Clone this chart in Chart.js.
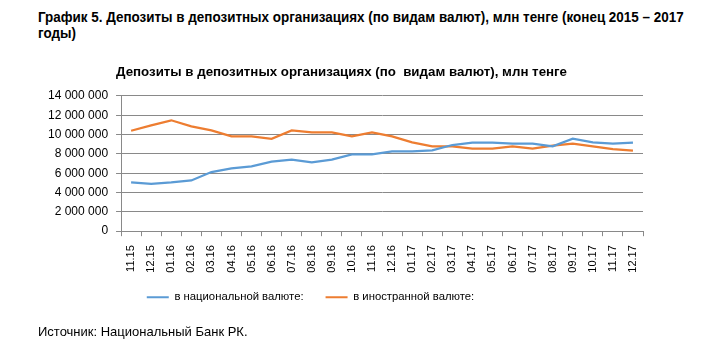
<!DOCTYPE html>
<html>
<head>
<meta charset="utf-8">
<script src="https://cdn.jsdelivr.net/npm/chart.js@4.4.0/dist/chart.umd.min.js"></script>
<style>
    body { margin: 0; background: #fff; }
    #wrap { position: relative; width: 725px; height: 351px; overflow: hidden; }
    #page-title {
        position: absolute; left: 38px; top: 9px; width: 715px;
        font: bold 14px "Liberation Sans", Arial, sans-serif;
        line-height: 16px; color: #000;
        transform: scaleX(0.96); transform-origin: left top;
    }
    #source {
        position: absolute; left: 38px; top: 324px;
        font: 13px "Liberation Sans", Arial, sans-serif; color: #000;
    }
    canvas { position: absolute; left: 0; top: 0; }
</style>
</head>
<body>
<div id="wrap">
    <div id="page-title">График 5. Депозиты в депозитных организациях (по видам валют), млн тенге (конец 2015 – 2017 годы)</div>
    <canvas id="chart" width="725" height="351"></canvas>
    <div id="source">Источник: Национальный Банк РК.</div>
</div>
<script>
// Months (MM.YY)
const months = ['11.15', '12.15', '01.16', '02.16', '03.16', '04.16', '05.16', '06.16', '07.16',
    '08.16', '09.16', '10.16', '11.16', '12.16', '01.17', '02.17', '03.17', '04.17', '05.17',
    '06.17', '07.17', '08.17', '09.17', '10.17', '11.17', '12.17'];

// Deposits, mln tenge
const nationalCurrency = [5050000, 4910000, 5050000, 5250000, 6120000, 6500000, 6700000, 7190000,
    7400000, 7120000, 7400000, 7950000, 7950000, 8260000, 8260000, 8360000, 8920000, 9160000,
    9160000, 9060000, 9060000, 8780000, 9570000, 9190000, 9060000, 9160000];
const foreignCurrency = [10400000, 10960000, 11480000, 10850000, 10440000, 9820000, 9820000, 9570000,
    10440000, 10230000, 10230000, 9820000, 10230000, 9820000, 9190000, 8780000, 8780000, 8540000,
    8540000, 8780000, 8540000, 8850000, 9060000, 8780000, 8500000, 8330000];

const seriesNames = ['в национальной валюте:', 'в иностранной валюте:'];
const chartTitle = 'Депозиты в депозитных организациях (по  видам валют), млн тенге';

const gridColor = '#898989';
const baseFont = '"Liberation Sans", Arial, sans-serif';

function formatTick(value) {
    return String(value).replace(/\B(?=(\d{3})+(?!\d))/g, ' ');
}

// Legend in the original sits a bit left of centre and closer to the labels
const legendShift = {
    id: 'legendShift',
    afterLayout(chart) {
        const lg = chart.legend;
        lg.left -= 31; lg.right -= 31;
        lg.top -= 12; lg.bottom -= 12;
    }
};

const ctx = document.getElementById('chart').getContext('2d');
new Chart(ctx, {
    type: 'line',
    data: {
        labels: months,
        datasets: [{
            label: seriesNames[0],
            data: nationalCurrency,
            borderColor: '#5B9BD5',
            backgroundColor: '#5B9BD5',
            borderWidth: 2.25,
            pointRadius: 0,
            tension: 0
        }, {
            label: seriesNames[1],
            data: foreignCurrency,
            borderColor: '#ED7D31',
            backgroundColor: '#ED7D31',
            borderWidth: 2.25,
            pointRadius: 0,
            tension: 0
        }]
    },
    options: {
        responsive: false,
        animation: false,
        layout: {
            padding: { left: 40, right: 82, top: 64, bottom: 26 }
        },
        plugins: {
            title: {
                display: true,
                text: chartTitle,
                color: '#000',
                font: { family: baseFont, size: 13.3, weight: 'bold' },
                padding: { top: 0, bottom: 16 }
            },
            legend: {
                position: 'bottom',
                labels: {
                    color: '#000',
                    font: { family: baseFont, size: 11.3 },
                    boxWidth: 22,
                    boxHeight: 2,
                    padding: 22,
                    generateLabels: (chart) => chart.data.datasets.map((ds, i) => ({
                        text: ds.label,
                        fillStyle: ds.borderColor,
                        strokeStyle: ds.borderColor,
                        lineWidth: 0,
                        datasetIndex: i
                    }))
                }
            },
            tooltip: { enabled: false }
        },
        scales: {
            x: {
                offset: true,
                grid: {
                    offset: true,
                    drawOnChartArea: false,
                    drawTicks: true,
                    tickLength: 5,
                    color: gridColor
                },
                border: { color: gridColor },
                ticks: {
                    color: '#000',
                    minRotation: 90,
                    maxRotation: 90,
                    autoSkip: false,
                    padding: 9,
                    font: { family: baseFont, size: 11 }
                }
            },
            y: {
                min: 0,
                max: 14000000,
                grid: {
                    color: gridColor,
                    tickLength: 5
                },
                border: { color: gridColor },
                ticks: {
                    stepSize: 2000000,
                    color: '#000',
                    padding: 8,
                    font: { family: baseFont, size: 12 },
                    callback: (value) => formatTick(value)
                }
            }
        }
    },
    plugins: [legendShift]
});
</script>
</body>
</html>
